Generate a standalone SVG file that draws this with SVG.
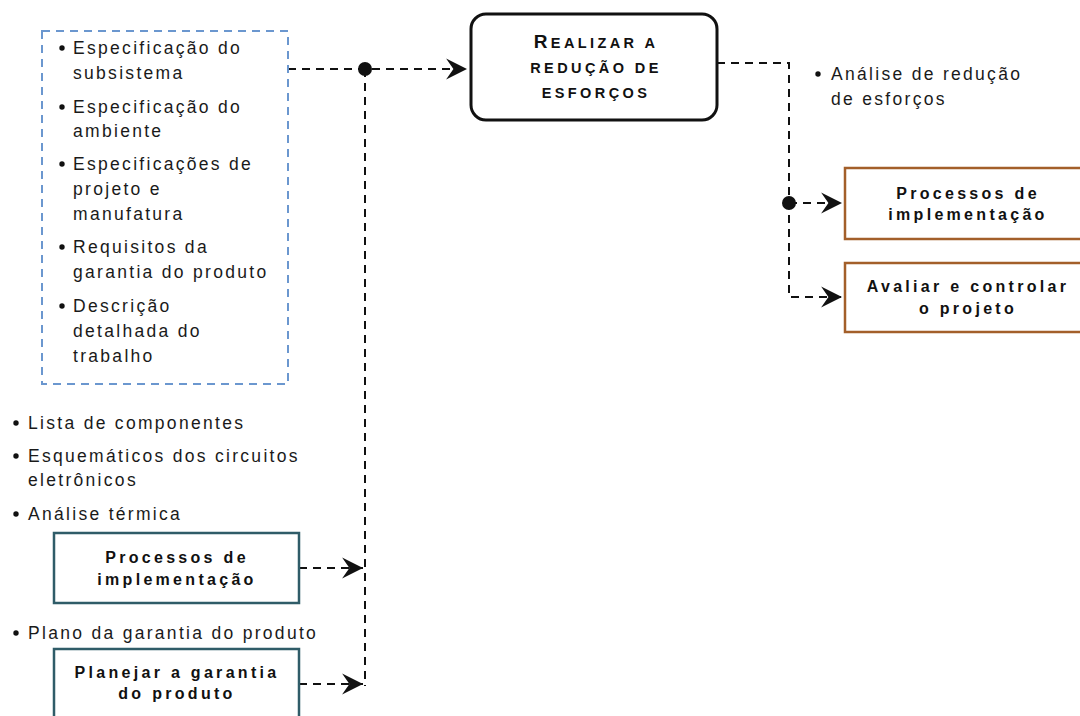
<svg xmlns="http://www.w3.org/2000/svg" width="1080" height="716" viewBox="0 0 1080 716">
<defs>
<style>
.t{font-family:"Liberation Sans",Arial,sans-serif;font-size:17.5px;letter-spacing:2.3px;fill:#1a1a1a}
.b{font-family:"Liberation Sans",Arial,sans-serif;font-size:16px;font-weight:bold;letter-spacing:3.3px;fill:#111;text-anchor:middle}
.sc{font-family:"Liberation Sans",Arial,sans-serif;font-weight:bold;letter-spacing:3.4px;fill:#111;text-anchor:middle;font-size:14.5px}
.c{fill:none;stroke:#111;stroke-width:2;stroke-dasharray:8 6}
.teal{fill:#fff;stroke:#2f5c68;stroke-width:2.5}
.orange{fill:#fff;stroke:#a35f2a;stroke-width:2.5}
</style>
<marker id="ah" viewBox="0 0 20 22" refX="20" refY="11" markerWidth="21" markerHeight="23" markerUnits="userSpaceOnUse" orient="auto">
<path d="M0,1 L20,11 L0,21 L7,11 Z" fill="#111"/>
</marker>
</defs>
<rect width="1080" height="716" fill="#fff"/>

<g id="connectors">
<path class="c" d="M288,69 H467" marker-end="url(#ah)"/>
<path class="c" d="M365,69 V686"/>
<circle cx="365" cy="69" r="7" fill="#111"/>
<path class="c" d="M299,568 H363" marker-end="url(#ah)"/>
<path class="c" d="M299,684 H363" marker-end="url(#ah)"/>
<path class="c" d="M717,63 H789 V297 H842" marker-end="url(#ah)"/>
<path class="c" d="M789,203 H842" marker-end="url(#ah)"/>
<circle cx="789" cy="203" r="7" fill="#111"/>
</g>

<g id="inputs">
<rect x="42" y="31" width="246" height="353" fill="none" stroke="#6b97cf" stroke-width="2" stroke-dasharray="8 6"/>
<g class="t">
<circle cx="62" cy="48" r="2.7" fill="#111"/>
<text x="73" y="54">Especificação do</text>
<text x="73" y="79">subsistema</text>
<circle cx="62" cy="107" r="2.7" fill="#111"/>
<text x="73" y="113">Especificação do</text>
<text x="73" y="137">ambiente</text>
<circle cx="62" cy="164" r="2.7" fill="#111"/>
<text x="73" y="170">Especificações de</text>
<text x="73" y="195">projeto e</text>
<text x="73" y="220">manufatura</text>
<circle cx="62" cy="247" r="2.7" fill="#111"/>
<text x="73" y="253">Requisitos da</text>
<text x="73" y="278">garantia do produto</text>
<circle cx="62" cy="306" r="2.7" fill="#111"/>
<text x="73" y="312">Descrição</text>
<text x="73" y="337">detalhada do</text>
<text x="73" y="362">trabalho</text>
</g>
</g>

<g id="realizar">
<rect x="471" y="14" width="246" height="106" rx="15" fill="#fff" stroke="#111" stroke-width="3"/>
<text class="sc" x="596" y="48"><tspan font-size="19">R</tspan>EALIZAR A</text>
<text class="sc" x="596" y="73">REDUÇÃO DE</text>
<text class="sc" x="596" y="98">ESFORÇOS</text>
</g>

<g id="analise">
<circle cx="818" cy="74" r="2.7" fill="#111"/>
<text class="t" x="831" y="80">Análise de redução</text>
<text class="t" x="831" y="105">de esforços</text>
</g>

<g id="proc-right">
<rect class="orange" x="845" y="168" width="245" height="71"/>
<text class="b" x="968" y="199">Processos de</text>
<text class="b" x="968" y="220">implementação</text>
</g>

<g id="avaliar">
<rect class="orange" x="845" y="263" width="245" height="69"/>
<text class="b" x="968" y="292">Avaliar e controlar</text>
<text class="b" x="968" y="314">o projeto</text>
</g>

<g id="lista">
<g class="t">
<circle cx="16" cy="423" r="2.7" fill="#111"/>
<text x="28" y="429">Lista de componentes</text>
<circle cx="16" cy="456" r="2.7" fill="#111"/>
<text x="28" y="462">Esquemáticos dos circuitos</text>
<text x="28" y="486">eletrônicos</text>
<circle cx="16" cy="514" r="2.7" fill="#111"/>
<text x="28" y="520">Análise térmica</text>
</g>
</g>

<g id="proc-left">
<rect class="teal" x="54" y="533" width="245" height="70"/>
<text class="b" x="177" y="563">Processos de</text>
<text class="b" x="177" y="585">implementação</text>
</g>

<g id="plano">
<circle cx="16" cy="633" r="2.7" fill="#111"/>
<text class="t" x="28" y="639">Plano da garantia do produto</text>
</g>

<g id="planejar">
<rect class="teal" x="54" y="649" width="245" height="80"/>
<text class="b" x="177" y="678">Planejar a garantia</text>
<text class="b" x="177" y="699">do produto</text>
</g>
</svg>
